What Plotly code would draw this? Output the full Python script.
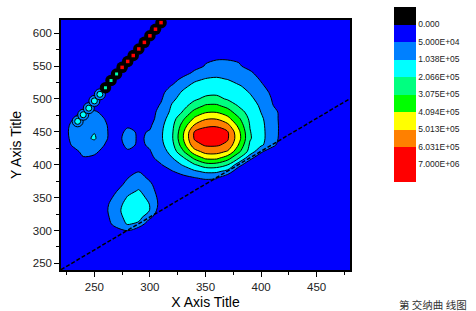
import numpy as np
import plotly.graph_objects as go

# Excitation (x) and emission (y) grid, nm
EX = [220, 230, 240, 250, 260, 270, 280, 290, 300, 310, 320, 330, 340, 350,
      360, 370, 380, 390, 400, 410, 420, 430, 440, 450, 460, 470, 480]
EM = [240, 250, 260, 270, 280, 290, 300, 310, 320, 330, 340, 350, 360, 370,
      380, 390, 400, 410, 420, 430, 440, 450, 460, 470, 480, 490, 500, 510,
      520, 530, 540, 550, 560, 570, 580, 590, 600, 610, 620]

# Intensity, thousands of counts; one row per EM value (ascending)
Z_THOUSANDS = [
    [10, 10, 10, 10, 10, 10, 10, 10, 10, 10, 10, 10, 10, 10, 10, 10, 10, 10, 10, 10, 10, 10, 10, 10, 10, 10, 10],
    [20, 10, 10, 10, 10, 10, 10, 10, 10, 10, 10, 10, 10, 10, 10, 10, 10, 10, 10, 10, 10, 10, 10, 10, 10, 10, 10],
    [20, 20, 10, 10, 10, 10, 10, 10, 10, 10, 10, 10, 10, 10, 10, 10, 10, 10, 10, 10, 10, 10, 10, 10, 10, 10, 10],
    [20, 20, 20, 10, 10, 10, 10, 10, 10, 10, 10, 10, 10, 10, 10, 10, 10, 10, 10, 10, 10, 10, 10, 10, 10, 10, 10],
    [20, 20, 20, 20, 10, 10, 10, 10, 10, 10, 10, 10, 10, 10, 10, 10, 10, 10, 10, 10, 10, 10, 10, 10, 10, 10, 10],
    [20, 20, 20, 20, 20, 10, 10, 10, 10, 10, 10, 10, 10, 10, 10, 10, 10, 10, 10, 10, 10, 10, 10, 10, 10, 10, 10],
    [20, 20, 20, 20, 20, 35, 51.1, 10, 10, 10, 10, 10, 10, 10, 10, 10, 10, 10, 10, 10, 10, 10, 10, 10, 10, 10, 10],
    [20, 20, 20, 20, 30, 68.8, 114.1, 93, 10, 10, 10, 10, 10, 10, 10, 10, 10, 10, 10, 10, 10, 10, 10, 10, 10, 10, 10],
    [20, 20, 20, 20, 35, 82.3, 134.6, 139.8, 60.8, 10, 10, 10, 10, 10, 10, 10, 10, 10, 10, 10, 10, 10, 10, 10, 10, 10, 10],
    [20, 20, 20, 20, 40, 90.4, 144.9, 155.2, 102.2, 15, 10, 10, 10, 10, 10, 10, 10, 10, 10, 10, 10, 10, 10, 10, 10, 10, 10],
    [20, 20, 20, 20, 37.5, 82.3, 139.8, 155.2, 102.2, 30, 10, 10, 10, 10, 10, 10, 10, 10, 10, 10, 10, 10, 10, 10, 10, 10, 10],
    [20, 20, 20, 20, 30, 63.5, 114.1, 139.8, 90.4, 27.5, 20, 10, 10, 10, 10, 10, 10, 10, 10, 10, 10, 10, 10, 10, 10, 10, 10],
    [20, 20, 20, 20, 25, 49, 87.7, 114.1, 71.5, 25, 20, 20, 10, 10, 10, 10, 10, 10, 10, 10, 10, 10, 10, 10, 10, 10, 10],
    [20, 20, 20, 20, 20, 30, 66.1, 85, 58.1, 22.5, 20, 20, 25, 15, 10, 10, 10, 10, 10, 10, 10, 10, 10, 10, 10, 10, 10],
    [20, 20, 20, 20, 20, 20, 49, 66.1, 42.5, 20, 22.5, 35, 47.5, 60.8, 55.4, 10, 10, 10, 10, 10, 10, 10, 10, 10, 10, 10, 10],
    [20, 20, 20, 20, 20, 20, 35, 48.5, 25, 30, 47.5, 71.5, 95.7, 124.4, 124.4, 87.7, 10, 10, 10, 10, 10, 10, 10, 10, 10, 10, 10],
    [20, 20, 20, 20, 20, 20, 20, 20, 30, 47.5, 76.9, 114.1, 196.3, 267.1, 267.1, 208.6, 71.5, 10, 10, 10, 10, 10, 10, 10, 10, 10, 10],
    [20, 25, 47.5, 42.5, 25, 20, 20, 20, 40, 66.1, 101.1, 191.2, 327.9, 425, 428.7, 348.3, 208.6, 66.1, 10, 10, 10, 10, 10, 10, 10, 10, 10],
    [20, 37.5, 58.1, 58.1, 37.5, 20, 42.5, 22.5, 47.5, 76.9, 144.9, 297.4, 461.8, 537, 540, 490.3, 327.9, 165.5, 60.8, 10, 10, 10, 10, 10, 10, 10, 10],
    [25, 52.7, 71.5, 74.2, 47.5, 22.5, 66.1, 42.5, 55.4, 90.4, 175.8, 368.6, 565.4, 1339, 1371, 581.7, 400.4, 190.2, 119.2, 71.5, 10, 10, 10, 10, 10, 10, 10],
    [30, 58.1, 85, 119.2, 55.4, 30, 74.2, 42.5, 59.1, 96.3, 195.3, 407.4, 1153, 2778, 2906, 1243, 443.4, 216.7, 134.6, 74.2, 30, 10, 10, 10, 10, 10, 10],
    [30, 60.8, 87.7, 101.1, 58.1, 22.5, 66.1, 42.5, 53.8, 95.7, 191.2, 396.2, 853, 2138, 2202, 942, 430.5, 211.6, 134.6, 74.2, 32.5, 10, 10, 10, 10, 10, 10],
    [27.5, 58.1, 82.3, 82.3, 55.4, 22.5, 40, 25, 42.5, 90.4, 180.9, 352.3, 509.4, 590.9, 595, 527.8, 378.8, 201.5, 129.5, 74.2, 32.5, 20, 10, 10, 10, 10, 10],
    [25, 47.5, 74.2, 74.2, 47.5, 22.5, 20, 20, 30, 79.6, 160.3, 292.4, 424.1, 489.3, 494, 436.1, 322.8, 186, 119.2, 74.2, 30, 20, 20, 10, 10, 10, 10],
    [20, 35, 55.4, 58.1, 35, 20, 20, 20, 30, 68.8, 129.5, 216.7, 343.2, 399.2, 404.3, 358.5, 247, 170.6, 102.7, 71.5, 30, 20, 20, 20, 10, 10, 10],
    [20, 20, 25, 25, 20, 20, 20, 22.5, 27.5, 55.4, 114.1, 175.8, 247, 317.7, 322.8, 267.1, 196.3, 150.1, 95.7, 52.7, 27.5, 20, 20, 20, 20, 10, 10],
    [20, 20, 20, 20, 20, 20, 20, 20, 25, 45, 93, 144.9, 191.2, 226.8, 231.8, 196.3, 170.6, 124.4, 85, 47.5, 25, 20, 20, 20, 20, 20, 10],
    [20, 20, 20, 20, 20, 20, 20, 20, 25, 37.5, 76.9, 119.2, 165.5, 180.9, 186, 175.8, 144.9, 101.1, 74.2, 40, 25, 20, 20, 20, 20, 20, 20],
    [20, 20, 20, 20, 20, 20, 20, 20, 22.5, 30, 52.7, 90.4, 129.5, 144.9, 150.1, 139.8, 109, 93, 58.1, 30, 22.5, 20, 20, 20, 20, 20, 20],
    [20, 20, 20, 20, 20, 20, 20, 20, 20, 22.5, 30, 63.5, 93, 109, 114.1, 102.7, 90.4, 74.2, 45, 25, 20, 20, 20, 20, 20, 20, 20],
    [20, 20, 20, 20, 20, 20, 20, 20, 20, 20, 22.5, 30, 58.1, 79.6, 90.4, 90.4, 82.3, 58.1, 30, 22.5, 20, 20, 20, 20, 20, 20, 20],
    [20, 20, 20, 20, 20, 20, 20, 20, 20, 20, 20, 25, 35, 52.7, 68.8, 68.8, 55.4, 35, 25, 20, 20, 20, 20, 20, 20, 20, 20],
    [20, 20, 20, 20, 20, 20, 20, 20, 20, 20, 20, 20, 35, 45, 48.5, 48.5, 45, 35, 20, 20, 20, 20, 20, 20, 20, 20, 20],
    [20, 20, 20, 20, 20, 20, 20, 20, 20, 20, 20, 20, 25, 25, 25, 25, 25, 20, 20, 20, 20, 20, 20, 20, 20, 20, 20],
    [20, 20, 20, 20, 20, 20, 20, 20, 20, 20, 20, 20, 20, 20, 20, 20, 20, 20, 20, 20, 20, 20, 20, 20, 20, 20, 20],
    [20, 20, 20, 20, 20, 20, 20, 20, 20, 20, 20, 20, 20, 20, 20, 20, 20, 20, 20, 20, 20, 20, 20, 20, 20, 20, 20],
    [20, 20, 20, 20, 20, 20, 20, 20, 20, 20, 20, 20, 20, 20, 20, 20, 20, 20, 20, 20, 20, 20, 20, 20, 20, 20, 20],
    [20, 20, 20, 20, 20, 20, 20, 20, 20, 20, 20, 20, 20, 20, 20, 20, 20, 20, 20, 20, 20, 20, 20, 20, 20, 20, 20],
    [20, 20, 20, 20, 20, 20, 20, 20, 20, 20, 20, 20, 20, 20, 20, 20, 20, 20, 20, 20, 20, 20, 20, 20, 20, 20, 20],
]

# Contour levels (counts) and their colour-bar labels
LEVELS = [0.0, 5.0e4, 1.038e5, 2.066e5, 3.075e5, 4.094e5, 5.013e5, 6.031e5, 7.0e6]
LEVEL_LABELS = ["0.000", "5.000E+04", "1.038E+05", "2.066E+05", "3.075E+05",
                "4.094E+05", "5.013E+05", "6.031E+05", "7.000E+06"]
# band colours from the highest band down to the band below 0
BAND_COLORS = ["#FF0000", "#FF0000", "#FF8000", "#FFFF00", "#00FF00",
               "#00FF80", "#00FFFF", "#0080FF", "#0000FF", "#000000"]

# second-order scatter streak (Em ~ 2 Ex)
SCAT_EX_LOW = [235, 240, 245, 250, 255]
SCAT_EM_LOW = [466, 476, 486, 497, 507]
SCAT_EX_HIGH = [260, 265, 270, 275, 280, 285, 290, 295, 300, 305, 310]
SCAT_EM_HIGH = [517, 528, 538, 548, 557, 566, 576, 586, 596, 606, 616]
N_CYAN_CORES = 3   # first points of the high streak have cyan cores, rest red

# Ex = Em cut-off line
CUTOFF_EX = [220, 480]
CUTOFF_EM = [240.5, 500.5]

z = np.array(Z_THOUSANDS, dtype=float) * 1000.0
level_index = np.interp(z, LEVELS, np.arange(len(LEVELS)))
zz = -level_index  # reversed so the colour bar runs 0.000 at the top

n = len(BAND_COLORS)
colorscale = [[k / (n - 1), c] for k, c in enumerate(BAND_COLORS)]

# plot area in pixels (fixed margins)
ML, MR, MT, MB = 61, 126, 20, 41
PW, PH = 476 - ML - MR, 311 - MT - MB

fig = go.Figure()
fig.add_trace(go.Contour(
    x=EX, y=EM, z=zz,
    autocontour=False,
    contours=dict(start=-(len(LEVELS) - 1), end=0, size=1, coloring="fill", showlines=False),
    colorscale=colorscale, zmin=-len(LEVELS), zmax=1,
    line=dict(smoothing=0.9, width=0),
    hoverinfo="skip",
    colorbar=dict(
        x=(394 - ML) / PW, xanchor="left", xpad=0,
        y=(MT + PH - 7) / PH, yanchor="top", ypad=0,
        len=175, lenmode="pixels", thickness=22, thicknessmode="pixels",
        outlinewidth=0, ticks="",
        tickvals=[-i for i in range(len(LEVELS))], ticktext=LEVEL_LABELS,
        tickfont=dict(family="Liberation Sans, Arial", size=8.5, color="#222"),
    ),
))
fig.add_trace(go.Contour(
    x=EX, y=EM, z=zz,
    autocontour=False,
    contours=dict(start=-(len(LEVELS) - 1), end=0, size=1, coloring="none", showlines=True),
    line=dict(color="black", width=1, smoothing=0.9),
    showscale=False, hoverinfo="skip",
))
fig.add_trace(go.Scatter(
    x=CUTOFF_EX, y=CUTOFF_EM, mode="lines",
    line=dict(color="black", width=1.5, dash="4px,2px"), hoverinfo="skip",
))
fig.add_trace(go.Scatter(
    x=SCAT_EX_LOW, y=SCAT_EM_LOW, mode="markers",
    marker=dict(size=11, color="#0080FF", line=dict(color="black", width=1)), hoverinfo="skip",
))
fig.add_trace(go.Scatter(
    x=SCAT_EX_LOW, y=SCAT_EM_LOW, mode="markers",
    marker=dict(size=6, color="#00FFFF", line=dict(color="black", width=1)), hoverinfo="skip",
))
fig.add_trace(go.Scatter(
    x=SCAT_EX_HIGH, y=SCAT_EM_HIGH, mode="markers",
    marker=dict(size=11.5, color="black", line=dict(width=0)), hoverinfo="skip",
))
fig.add_trace(go.Scatter(
    x=SCAT_EX_HIGH[:N_CYAN_CORES], y=SCAT_EM_HIGH[:N_CYAN_CORES], mode="markers",
    marker=dict(size=3, symbol="square", color="#00FFB0", line=dict(width=0)), hoverinfo="skip",
))
fig.add_trace(go.Scatter(
    x=SCAT_EX_HIGH[N_CYAN_CORES:], y=SCAT_EM_HIGH[N_CYAN_CORES:], mode="markers",
    marker=dict(size=3.5, symbol="square", color="#FF0000", line=dict(width=0)), hoverinfo="skip",
))

axis_common = dict(
    showgrid=False, zeroline=False, showline=True, linecolor="black", linewidth=1.5,
    mirror=True, ticks="outside", ticklen=5, tickwidth=1, tickcolor="black",
    tickfont=dict(family="Liberation Sans, Arial", size=11.5, color="#222"),
    dtick=50, tick0=250, automargin=False,
    minor=dict(dtick=25, ticks="outside", ticklen=3, tickwidth=1, tickcolor="black"),
)
fig.update_layout(
    width=476, height=311,
    margin=dict(l=ML, r=MR, t=MT, b=MB, autoexpand=False),
    paper_bgcolor="white", plot_bgcolor="#0000FF",
    showlegend=False,
    font=dict(family="Liberation Sans, Arial", size=12, color="black"),
    xaxis=dict(range=[220, 480],
               title=dict(text="X Axis Title", font=dict(size=14), standoff=6), **axis_common),
    yaxis=dict(range=[240, 620],
               title=dict(text="Y Axis Title", font=dict(size=14), standoff=8), **axis_common),
    annotations=[dict(
        text="第 交纳曲 线图", xref="paper", yref="paper",
        x=(433 - ML) / PW, y=(MT + PH - 295) / PH, xanchor="center", yanchor="top",
        showarrow=False, font=dict(family="Noto Sans CJK SC", size=10.5, color="#333"),
    )],
)

fig.write_html("out.html")
